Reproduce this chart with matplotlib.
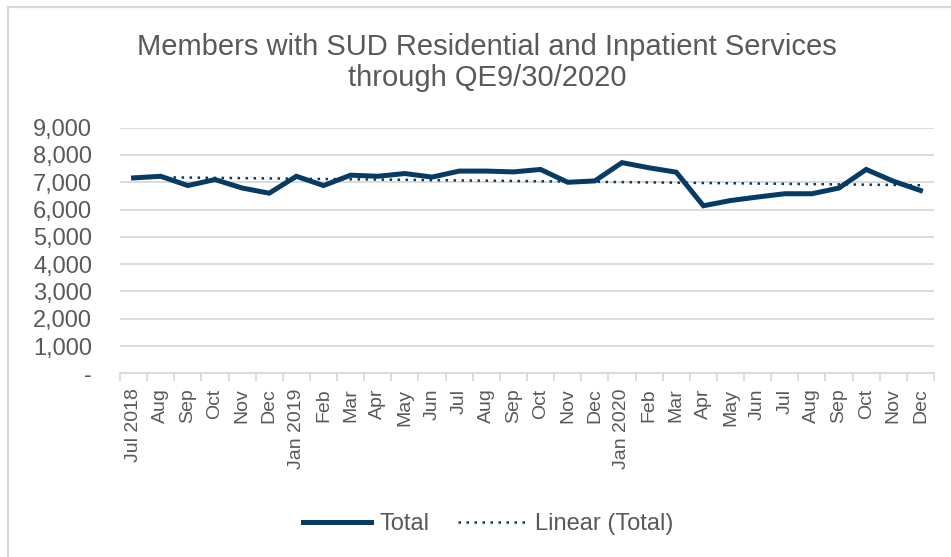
import numpy as np
import matplotlib
matplotlib.use("Agg")
import matplotlib.pyplot as plt
from matplotlib.patches import Rectangle
from matplotlib.ticker import FuncFormatter, FixedLocator

months = ["Jul 2018", "Aug", "Sep", "Oct", "Nov", "Dec",
          "Jan 2019", "Feb", "Mar", "Apr", "May", "Jun",
          "Jul", "Aug", "Sep", "Oct", "Nov", "Dec",
          "Jan 2020", "Feb", "Mar", "Apr", "May", "Jun",
          "Jul", "Aug", "Sep", "Oct", "Nov", "Dec"]
total = [7160, 7220, 6880, 7100, 6790, 6600,
         7220, 6880, 7260, 7220, 7320, 7190,
         7410, 7410, 7380, 7470, 7000, 7050,
         7720, 7530, 7370, 6140, 6330, 6460,
         6580, 6580, 6790, 7470, 7040, 6700]
yticks = [0, 1000, 2000, 3000, 4000, 5000, 6000, 7000, 8000, 9000]
title = "Members with SUD Residential and Inpatient Services\nthrough QE9/30/2020"

plt.rcParams['font.family'] = ['Liberation Sans', 'DejaVu Sans']
W, H = 951, 557
fig = plt.figure(figsize=(W / 100, H / 100), dpi=100)
fig.patch.set_facecolor('white')

# chart border
fig.patches.append(Rectangle((8 / W, -0.1), 1.2, 1 - 7 / H + 0.1, transform=fig.transFigure,
                             fill=False, edgecolor='#d9d9d9', lw=1.6, zorder=0))

ax = fig.add_axes([120 / W, 1 - 373.3 / H, (934 - 120) / W, (373.3 - 127.7) / H])
navy = '#073b64'
gray = '#595959'
x = np.arange(len(total))
ax.plot(x, total, color=navy, lw=3.6, solid_joinstyle='miter', label='Total', zorder=3)
coef = np.polyfit(x, total, 1)
ax.plot(x, np.polyval(coef, x), color=navy, lw=1.8, linestyle=(0, (1, 2.2)),
        label='Linear (Total)', zorder=2)

ax.set_xlim(-0.5, len(total) - 0.5)
ax.set_ylim(0, 9000)
ax.set_yticks(yticks)
ax.yaxis.set_major_formatter(FuncFormatter(lambda v, p: "-" if v == 0 else f"{int(v):,}"))
ax.grid(axis='y', color='#d9d9d9', lw=1.3)
ax.set_axisbelow(True)
for s in ['left', 'right', 'top']:
    ax.spines[s].set_visible(False)
ax.spines['bottom'].set_color('#d9d9d9')
ax.spines['bottom'].set_linewidth(1.3)

ax.set_xticks(x)
ax.set_xticklabels(months, rotation=90, fontsize=14, color=gray)
ax.xaxis.set_minor_locator(FixedLocator(np.arange(-0.5, len(total), 1.0)))
ax.tick_params(axis='x', which='major', length=0, pad=11)
ax.tick_params(axis='x', which='minor', length=6, width=1.3, color='#d9d9d9')
ax.tick_params(axis='y', length=0, labelsize=17, labelcolor=gray, pad=20)

fig.text(487 / W, 1 - 62.5 / H, title, ha='center', va='center', fontsize=21,
         color=gray, linespacing=1.12)

leg = fig.legend(loc='center', bbox_to_anchor=(488 / W, 1 - 524 / H), ncol=2, frameon=False,
                 fontsize=17, handlelength=2.9, handletextpad=0.35, columnspacing=1.2)
for t in leg.get_texts():
    t.set_color(gray)

fig.savefig('out.png', dpi=100, facecolor='white')
